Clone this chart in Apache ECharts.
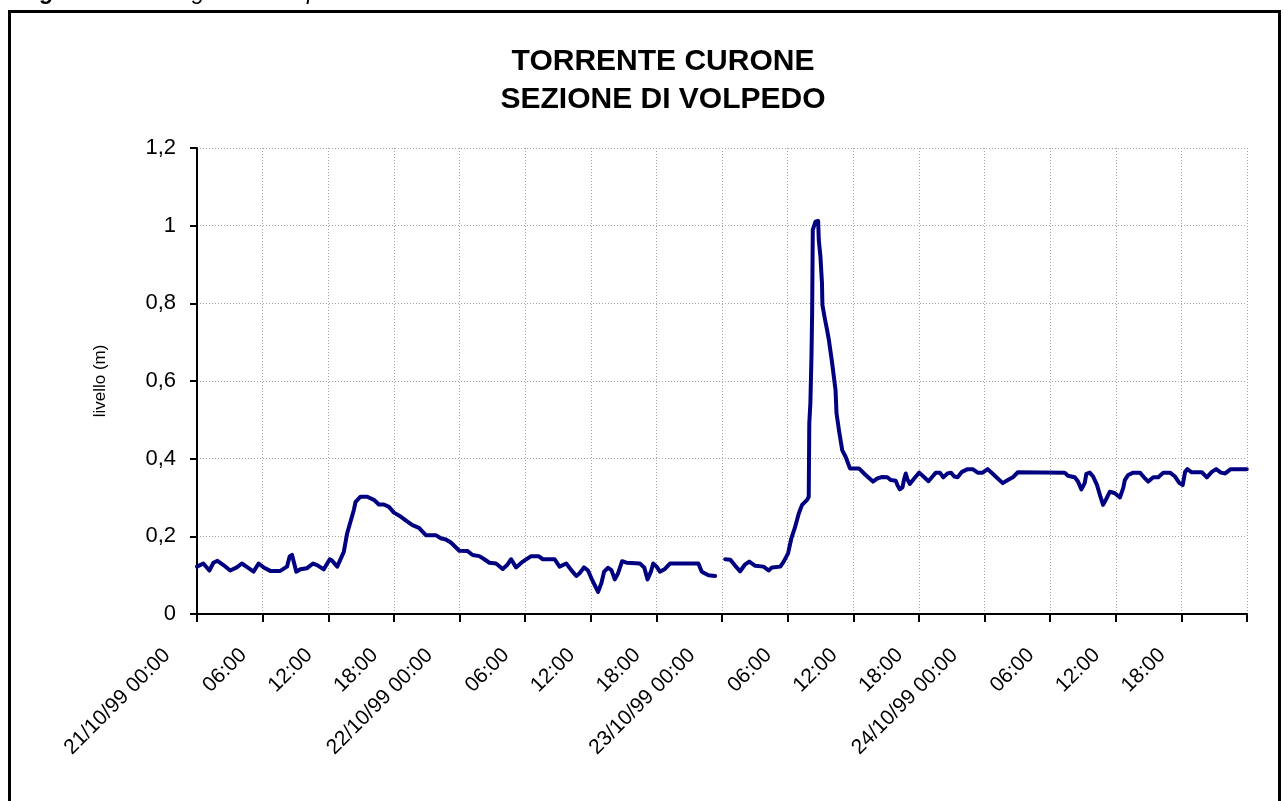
<!DOCTYPE html>
<html>
<head>
<meta charset="utf-8">
<title>Torrente Curone - Sezione di Volpedo</title>
<script src="https://cdn.jsdelivr.net/npm/echarts@6/dist/echarts.min.js"></script>
<style>
  html, body { margin: 0; padding: 0; background: #fff; }
  #main { width: 1284px; height: 801px; }
</style>
</head>
<body>
<div id="main"></div>
<script>
// ore trascorse dalle 00:00 del 21/10/99
const ore = [
  0, 0.58, 1.13, 1.5, 1.87, 2.42, 3.03, 3.64, 4.1, 4.62, 5.17, 5.63, 6.09, 6.7, 7.61,
  8.23, 8.47, 8.69, 8.84, 9.08, 9.45, 10.06, 10.61, 10.98, 11.59, 12.14, 12.36, 12.82,
  13.42, 13.73, 14.34, 14.5, 14.95, 15.57, 16.17, 16.63, 17.09, 17.55, 18.01, 18.62,
  19.24, 19.7, 20.3, 20.92, 21.83, 22.29, 22.75, 23.21, 23.98, 24.74, 25.2, 25.81,
  26.27, 26.73, 27.34, 27.95, 28.35, 28.72, 29.17, 29.79, 30.55, 31.22, 31.62, 32.69,
  33.15, 33.76, 34.22, 34.68, 34.98, 35.38, 35.75, 36.06, 36.67, 36.97, 37.22, 37.59,
  37.89, 38.2, 38.5, 38.87, 39.27, 40.49, 40.89, 41.19, 41.5, 41.71, 42.02, 42.32,
  42.78, 43.24, 45.84, 46.15, 46.76, 47.37,
  47.8,
  48.29, 48.75, 49.21, 49.66, 50.12, 50.49, 51.04, 51.8, 52.26, 52.57, 53.33, 53.64,
  54.04, 54.34, 54.65, 55.02, 55.32, 55.78, 55.93, 55.98, 56.08, 56.18, 56.24, 56.3,
  56.54, 56.79, 56.85, 57.0, 57.14, 57.18, 57.4, 57.61, 57.77, 58.07, 58.38, 58.47,
  58.69, 58.99, 59.3, 59.7, 60.52, 61.13, 61.8, 62.2, 62.66, 63.12, 63.42, 63.88,
  64.04, 64.25, 64.5, 64.65, 64.8, 64.95, 65.17, 65.57, 66.03, 66.49, 66.88, 67.25,
  67.55, 67.92, 68.23, 68.62, 68.93, 69.24, 69.54, 69.94, 70.46, 70.92, 71.38, 71.83,
  72.29, 72.75, 73.21, 73.67, 74.13, 74.59, 75.05, 79.33, 79.63, 80.25, 80.55, 80.86,
  81.16, 81.31, 81.62, 81.93, 82.29, 82.6, 82.84, 83.09, 83.46, 83.92, 84.38, 84.68,
  84.83, 85.14, 85.6, 86.21, 86.58, 86.97, 87.43, 87.89, 88.35, 88.96, 89.42, 89.82,
  90.12, 90.34, 90.55, 90.95, 91.87, 92.33, 92.78, 93.18, 93.61, 94.01, 94.51, 95.98
];

// livello idrometrico (m); null = dato mancante
const livello = [
  0.122, 0.130, 0.112, 0.132, 0.137, 0.126, 0.112, 0.120, 0.130, 0.120, 0.109, 0.130, 0.120, 0.111, 0.111,
  0.122, 0.148, 0.152, 0.135, 0.109, 0.115, 0.118, 0.130, 0.126, 0.115, 0.141, 0.137, 0.122,
  0.160, 0.208, 0.268, 0.289, 0.302, 0.302, 0.294, 0.282, 0.282, 0.276, 0.261, 0.251,
  0.238, 0.229, 0.222, 0.203, 0.203, 0.195, 0.192, 0.184, 0.163, 0.162, 0.152, 0.149,
  0.141, 0.132, 0.130, 0.116, 0.126, 0.141, 0.120, 0.135, 0.149, 0.149, 0.141, 0.141,
  0.122, 0.130, 0.113, 0.098, 0.105, 0.120, 0.112, 0.092, 0.057, 0.079, 0.109, 0.119,
  0.113, 0.089, 0.105, 0.136, 0.132, 0.130, 0.120, 0.089, 0.109, 0.130, 0.122, 0.109,
  0.116, 0.130, 0.130, 0.109, 0.100, 0.098,
  null,
  0.141, 0.140, 0.124, 0.110, 0.128, 0.135, 0.124, 0.122, 0.112, 0.120, 0.122, 0.135,
  0.156, 0.195, 0.221, 0.259, 0.281, 0.294, 0.302, 0.491, 0.543, 0.663, 0.774, 0.989,
  1.010, 1.012, 0.963, 0.920, 0.852, 0.796, 0.761, 0.731, 0.706, 0.646, 0.577, 0.517,
  0.474, 0.422, 0.405, 0.375, 0.375, 0.358, 0.341, 0.349, 0.353, 0.352, 0.345, 0.343,
  0.332, 0.321, 0.326, 0.347, 0.362, 0.347, 0.335, 0.349, 0.364, 0.352, 0.342, 0.354,
  0.364, 0.364, 0.352, 0.362, 0.364, 0.354, 0.352, 0.366, 0.373, 0.373, 0.364, 0.364,
  0.373, 0.361, 0.349, 0.337, 0.345, 0.352, 0.365, 0.364, 0.356, 0.352, 0.341, 0.321,
  0.337, 0.361, 0.364, 0.354, 0.332, 0.302, 0.281, 0.294, 0.315, 0.311, 0.300, 0.324,
  0.345, 0.358, 0.364, 0.364, 0.352, 0.341, 0.352, 0.352, 0.364, 0.364, 0.354, 0.337,
  0.332, 0.366, 0.373, 0.365, 0.365, 0.352, 0.366, 0.373, 0.364, 0.362, 0.373, 0.373
];

// etichette asse x, una ogni 6 ore
const etichetteX = [
  '21/10/99 00:00', '06:00', '12:00', '18:00',
  '22/10/99 00:00', '06:00', '12:00', '18:00',
  '23/10/99 00:00', '06:00', '12:00', '18:00',
  '24/10/99 00:00', '06:00', '12:00', '18:00',
  ''
];

const font = '"Liberation Sans", Arial, sans-serif';

const chart = echarts.init(document.getElementById('main'));

chart.setOption({
  animation: false,
  backgroundColor: '#fff',
  textStyle: { fontFamily: font },
  grid: { left: 197, right: 37, top: 148, bottom: 187 },
  graphic: [
    {
      type: 'rect',
      shape: { x: 9.5, y: 11.5, width: 1270, height: 820 },
      style: { fill: 'none', stroke: '#000', lineWidth: 3 },
      silent: true
    },
    {
      type: 'text',
      x: 20, y: 4,
      style: {
        text: '{b|Figura 2-3} {i|– Idrogramma di piena del Curone}',
        verticalAlign: 'bottom',
        rich: {
          b: { fontFamily: font, fontSize: 23, fontWeight: 'bold', fontStyle: 'italic', fill: '#000', lineHeight: 23 },
          i: { fontFamily: font, fontSize: 23, fontStyle: 'italic', fill: '#000', lineHeight: 23 }
        }
      }
    },
    {
      type: 'text',
      x: 663, y: 43,
      style: {
        text: 'TORRENTE CURONE\nSEZIONE DI VOLPEDO',
        align: 'center',
        verticalAlign: 'top',
        font: 'bold 30px ' + font,
        lineHeight: 38,
        fill: '#000'
      }
    }
  ],
  xAxis: {
    type: 'value',
    min: 0,
    max: 96,
    interval: 6,
    axisLine: { show: true, onZero: false, lineStyle: { color: '#000', width: 2 } },
    axisTick: { show: true, inside: false, length: 8, lineStyle: { color: '#000', width: 2 } },
    axisLabel: {
      rotate: 45,
      margin: 30,
      fontSize: 21,
      color: '#000',
      fontFamily: font,
      showMinLabel: true,
      showMaxLabel: true,
      hideOverlap: false,
      formatter: (v) => {
        const t = etichetteX[Math.round(v / 6)] || '';
        if (!t) return '';
        return t.length > 5 ? '{l|' + t + '}' : '{s|' + t + '}';
      },
      rich: {
        s: { fontSize: 21, fontFamily: font, color: '#000', padding: [0, 19, 16, 0] },
        l: { fontSize: 21, fontFamily: font, color: '#000', padding: [0, 27, 31, 0] }
      }
    },
    splitLine: { show: true, lineStyle: { color: '#a6a6a6', width: 1, type: [1, 2] } }
  },
  yAxis: {
    type: 'value',
    min: 0,
    max: 1.2,
    interval: 0.2,
    name: 'livello (m)',
    nameLocation: 'middle',
    nameGap: 88,
    nameTextStyle: { fontSize: 17, color: '#000', fontFamily: font },
    axisLine: { show: true, lineStyle: { color: '#000', width: 2 } },
    axisTick: { show: true, inside: false, length: 7, lineStyle: { color: '#000', width: 2 } },
    axisLabel: {
      margin: 21,
      fontSize: 22,
      color: '#000',
      fontFamily: font,
      formatter: (v) => String(Math.round(v * 10) / 10).replace('.', ',')
    },
    splitLine: { show: true, lineStyle: { color: '#a6a6a6', width: 1, type: [1, 2] } }
  },
  series: [
    {
      type: 'line',
      data: ore.map((h, i) => [h, livello[i]]),
      showSymbol: false,
      connectNulls: false,
      lineStyle: { color: '#000080', width: 4, join: 'round', cap: 'round' },
      itemStyle: { color: '#000080' }
    }
  ]
});
</script>
</body>
</html>
